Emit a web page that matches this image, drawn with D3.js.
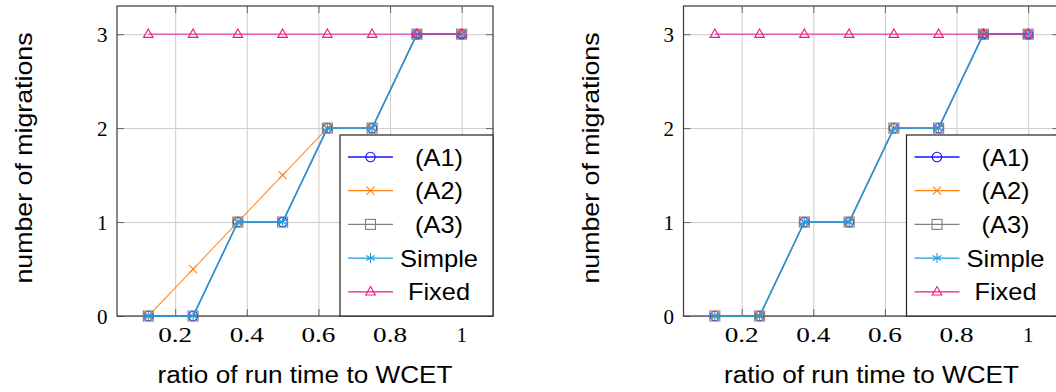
<!DOCTYPE html>
<html>
<head>
<meta charset="utf-8">
<script src="https://cdn.jsdelivr.net/npm/d3@7/dist/d3.min.js"></script>
<style>
  html, body { margin: 0; padding: 0; background: #fff; }
  svg { display: block; }
</style>
</head>
<body>
<svg id="chart" width="1056" height="392"></svg>
<script>
// ---- data ----
const xValues = [0.125, 0.25, 0.375, 0.5, 0.625, 0.75, 0.875, 1];
const seriesNames = ["(A1)", "(A2)", "(A3)", "Simple", "Fixed"];
const leftA1 = [0, 0, 1, 1, 2, 2, 3, 3];
const leftA2 = [0, 0.5, 1, 1.5, 2, 2, 3, 3];
const leftA3 = [0, 0, 1, 1, 2, 2, 3, 3];
const leftSimple = [0, 0, 1, 1, 2, 2, 3, 3];
const leftFixed = [3, 3, 3, 3, 3, 3, 3, 3];
const rightA1 = [0, 0, 1, 1, 2, 2, 3, 3];
const rightA2 = [0, 0, 1, 1, 2, 2, 3, 3];
const rightA3 = [0, 0, 1, 1, 2, 2, 3, 3];
const rightSimple = [0, 0, 1, 1, 2, 2, 3, 3];
const rightFixed = [3, 3, 3, 3, 3, 3, 3, 3];
const xTickValues = [0.2, 0.4, 0.6, 0.8, 1];
const xTickLabels = ["0.2", "0.4", "0.6", "0.8", "1"];
const yTickValues = [0, 1, 2, 3];
const yTickLabels = ["0", "1", "2", "3"];
const xTitle = "ratio of run time to WCET";
const yTitle = "number of migrations";

// ---- styles ----
const colors = ["#1414ff", "#ff8010", "#808080", "#1c9ee0", "#ee1a8c"];
const lineOpacity = [0.85, 0.85, 0.85, 1, 0.8];
const markers = ["circle", "x", "square", "asterisk", "triangle"];
const legendWidths = [48, 48, 48, 78, 62];

const svg = d3.select("#chart");

function drawMarker(g, type, cx, cy, color) {
  const m = g.append("g").attr("transform", `translate(${cx},${cy})`)
    .attr("fill", "none").attr("stroke", color).attr("stroke-width", 1.1);
  if (type === "circle") {
    m.append("circle").attr("r", 4.7);
  } else if (type === "x") {
    const s = 4;
    m.append("path").attr("d", `M${-s},${-s}L${s},${s}M${-s},${s}L${s},${-s}`);
  } else if (type === "square") {
    m.append("rect").attr("x", -5).attr("y", -5).attr("width", 10).attr("height", 10);
  } else if (type === "asterisk") {
    const s = 5;
    let d = "";
    for (let k = 0; k < 3; k++) {
      const a = Math.PI / 2 + k * Math.PI / 3;
      d += `M${-s * Math.cos(a)},${-s * Math.sin(a)}L${s * Math.cos(a)},${s * Math.sin(a)}`;
    }
    m.append("path").attr("d", d);
  } else if (type === "triangle") {
    m.append("path").attr("d", "M0,-5.2L4.8,3.2L-4.8,3.2Z");
  }
}

function panel(offsetX, seriesData) {
  const left = 117 + offsetX, right = 493 + offsetX, top = 6, bottom = 316;
  const x = d3.scaleLinear().domain([0.0375, 1.0875]).range([left, right]);
  const y = d3.scaleLinear().domain([0, 3.3]).range([bottom, top]);
  const g = svg.append("g");

  // grid
  const xGrid = d3.axisBottom(x).tickValues(xTickValues).tickSize(-(bottom - top)).tickFormat("");
  g.append("g").attr("transform", `translate(0,${bottom})`).call(xGrid)
    .call(s => s.select(".domain").remove())
    .call(s => s.selectAll("line").attr("stroke", "#cccccc").attr("stroke-width", 1));
  const yGrid = d3.axisLeft(y).tickValues(yTickValues).tickSize(-(right - left)).tickFormat("");
  g.append("g").attr("transform", `translate(${left},0)`).call(yGrid)
    .call(s => s.select(".domain").remove())
    .call(s => s.selectAll("line").attr("stroke", "#cccccc").attr("stroke-width", 1));

  // inner ticks (all four sides)
  const tl = 7;
  const tickCol = "#666";
  const xB = d3.axisBottom(x).tickValues(xTickValues).tickSizeInner(-tl).tickSizeOuter(0).tickFormat("");
  g.append("g").attr("transform", `translate(0,${bottom})`).call(xB)
    .call(s => s.select(".domain").remove())
    .call(s => s.selectAll("line").attr("stroke", tickCol));
  const xT = d3.axisTop(x).tickValues(xTickValues).tickSizeInner(-tl).tickSizeOuter(0).tickFormat("");
  g.append("g").attr("transform", `translate(0,${top})`).call(xT)
    .call(s => s.select(".domain").remove())
    .call(s => s.selectAll("line").attr("stroke", tickCol));
  const yL = d3.axisLeft(y).tickValues(yTickValues).tickSizeInner(-tl).tickSizeOuter(0).tickFormat("");
  g.append("g").attr("transform", `translate(${left},0)`).call(yL)
    .call(s => s.select(".domain").remove())
    .call(s => s.selectAll("line").attr("stroke", tickCol));
  const yR = d3.axisRight(y).tickValues(yTickValues).tickSizeInner(-tl).tickSizeOuter(0).tickFormat("");
  g.append("g").attr("transform", `translate(${right},0)`).call(yR)
    .call(s => s.select(".domain").remove())
    .call(s => s.selectAll("line").attr("stroke", tickCol));

  // tick labels
  g.append("g").selectAll("text").data(xTickValues).join("text")
    .attr("x", d => x(d)).attr("y", 341.5)
    .attr("text-anchor", "middle")
    .attr("font-family", "Liberation Serif, serif").attr("font-size", 21)
    .attr("textLength", (d, i) => xTickLabels[i].length > 1 ? 34 : null)
    .attr("lengthAdjust", "spacingAndGlyphs")
    .text((d, i) => xTickLabels[i]);
  g.append("g").selectAll("text").data(yTickValues).join("text")
    .attr("x", left - 9.5).attr("y", d => y(d) + 7.5)
    .attr("text-anchor", "end")
    .attr("font-family", "Liberation Serif, serif").attr("font-size", 21)
    .text((d, i) => yTickLabels[i]);

  // frame
  g.append("rect").attr("x", left).attr("y", top)
    .attr("width", right - left).attr("height", bottom - top)
    .attr("fill", "none").attr("stroke", "#3a3a3a").attr("stroke-width", 1.2);

  // series
  const line = d3.line().x((d, i) => x(xValues[i])).y(d => y(d));
  seriesData.forEach((vals, si) => {
    const sg = g.append("g");
    sg.append("path").datum(vals).attr("d", line)
      .attr("fill", "none").attr("stroke", colors[si]).attr("stroke-width", si === 1 ? 1.1 : 1.3)
      .attr("stroke-opacity", lineOpacity[si]);
    vals.forEach((v, i) => drawMarker(sg, markers[si], x(xValues[i]), y(v), colors[si]));
  });

  // legend
  const lgX = left + 223, lgY = 135;
  const lg = g.append("g");
  lg.append("rect").attr("x", lgX).attr("y", lgY)
    .attr("width", right - lgX).attr("height", bottom - lgY)
    .attr("fill", "#fff").attr("stroke", "#222").attr("stroke-width", 1.2);
  seriesNames.forEach((name, si) => {
    const ry = 157 + si * 33.7;
    lg.append("line").attr("x1", lgX + 8).attr("x2", lgX + 53).attr("y1", ry).attr("y2", ry)
      .attr("stroke", colors[si]).attr("stroke-width", 1.3);
    drawMarker(lg, markers[si], lgX + 30.5, ry, colors[si]);
    lg.append("text").attr("x", lgX + 99).attr("y", ry + 8.5)
      .attr("text-anchor", "middle")
      .attr("font-family", "Liberation Sans, Arial, sans-serif").attr("font-size", 24)
      .attr("textLength", legendWidths[si]).attr("lengthAdjust", "spacingAndGlyphs")
      .text(name);
  });

  // axis titles
  g.append("text").attr("x", (left + right) / 2).attr("y", 383)
    .attr("text-anchor", "middle")
    .attr("font-family", "Liberation Sans, Arial, sans-serif").attr("font-size", 23)
    .attr("textLength", 295).attr("lengthAdjust", "spacingAndGlyphs")
    .text(xTitle);
  g.append("text")
    .attr("transform", `translate(${offsetX + 32},${(top + bottom) / 2 - 3}) rotate(-90)`)
    .attr("text-anchor", "middle")
    .attr("font-family", "Liberation Sans, Arial, sans-serif").attr("font-size", 24)
    .attr("textLength", 251).attr("lengthAdjust", "spacingAndGlyphs")
    .text(yTitle);
}

panel(0, [leftA1, leftA2, leftA3, leftSimple, leftFixed]);
panel(566.5, [rightA1, rightA2, rightA3, rightSimple, rightFixed]);
</script>
</body>
</html>
